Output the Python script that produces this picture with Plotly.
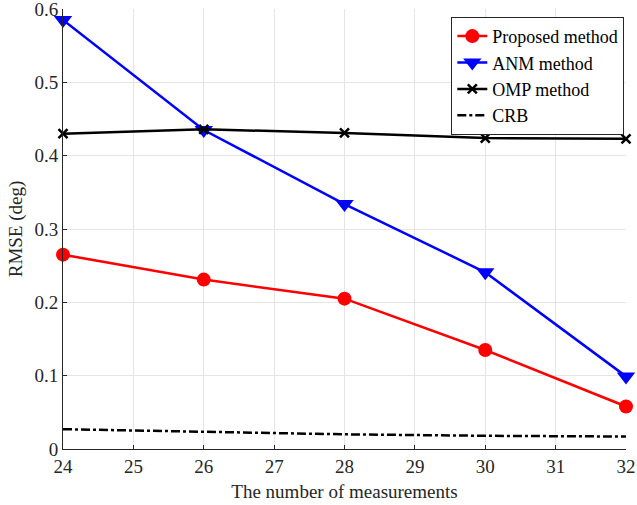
import plotly.graph_objects as go

x_vals = [24, 26, 28, 30, 32]
proposed = [0.265, 0.231, 0.205, 0.135, 0.058]
anm = [0.585, 0.435, 0.334, 0.241, 0.099]
omp = [0.430, 0.436, 0.431, 0.424, 0.423]
crb = [0.027, 0.023, 0.020, 0.018, 0.017]

x_ticks = list(range(24, 33))
x_tick_text = [str(v) for v in x_ticks]
y_ticks = [0, 0.1, 0.2, 0.3, 0.4, 0.5, 0.6]
y_tick_text = ["0", "0.1", "0.2", "0.3", "0.4", "0.5", "0.6"]

SERIF = "Liberation Serif"

fig = go.Figure()
fig.add_trace(go.Scatter(x=x_vals, y=proposed, name="Proposed method", mode="lines+markers",
                         line=dict(color="#ff0000", width=2.5),
                         marker=dict(symbol="circle", size=14, color="#ff0000"), cliponaxis=False))
fig.add_trace(go.Scatter(x=x_vals, y=anm, name="ANM method", mode="lines+markers",
                         line=dict(color="#0000ff", width=2.5),
                         marker=dict(symbol="triangle-down", size=16, color="#0000ff"), cliponaxis=False))
fig.add_trace(go.Scatter(x=x_vals, y=omp, name="OMP method", mode="lines+markers",
                         line=dict(color="#000000", width=2.5),
                         marker=dict(symbol="x-thin", size=9, color="#000000",
                                     line=dict(width=2.5, color="#000000")), cliponaxis=False))
fig.add_trace(go.Scatter(x=x_vals, y=crb, name="CRB", mode="lines",
                         line=dict(color="#000000", width=2.5, dash="dashdot"), cliponaxis=False))

fig.update_layout(
    width=637, height=505,
    margin=dict(l=63, r=11, t=9, b=56),
    paper_bgcolor="white", plot_bgcolor="white",
    font=dict(family=SERIF, size=18, color="#262626"),
    showlegend=True,
    legend=dict(x=0.997, y=0.982, xanchor="right", yanchor="top",
                bgcolor="white", bordercolor="#262626", borderwidth=1,
                font=dict(family=SERIF, size=18, color="#000000"),
                tracegroupgap=0, itemwidth=30),
)
fig.update_xaxes(range=[24, 32], tickvals=x_ticks, ticktext=x_tick_text,
                 ticks="inside", ticklen=4, automargin=False, ticklabeloverflow="allow",
                 tickcolor="#262626", showline=True, linecolor="#262626", linewidth=1,
                 showgrid=True, gridcolor="#e5e5e5", gridwidth=1, zeroline=False,
                 title=dict(text="The number of measurements", font=dict(family=SERIF, size=19), standoff=8),
                 tickfont=dict(family=SERIF, size=19))
fig.update_yaxes(range=[0, 0.6], tickvals=y_ticks, ticktext=y_tick_text, ticks="inside", ticklen=4,
                 automargin=False, ticklabeloverflow="allow",
                 tickcolor="#262626", showline=True, linecolor="#262626", linewidth=1,
                 showgrid=True, gridcolor="#e5e5e5", gridwidth=1, zeroline=False,
                 title=dict(text="RMSE (deg)", font=dict(family=SERIF, size=19), standoff=6),
                 tickfont=dict(family=SERIF, size=19))

fig.write_html("out.html")
